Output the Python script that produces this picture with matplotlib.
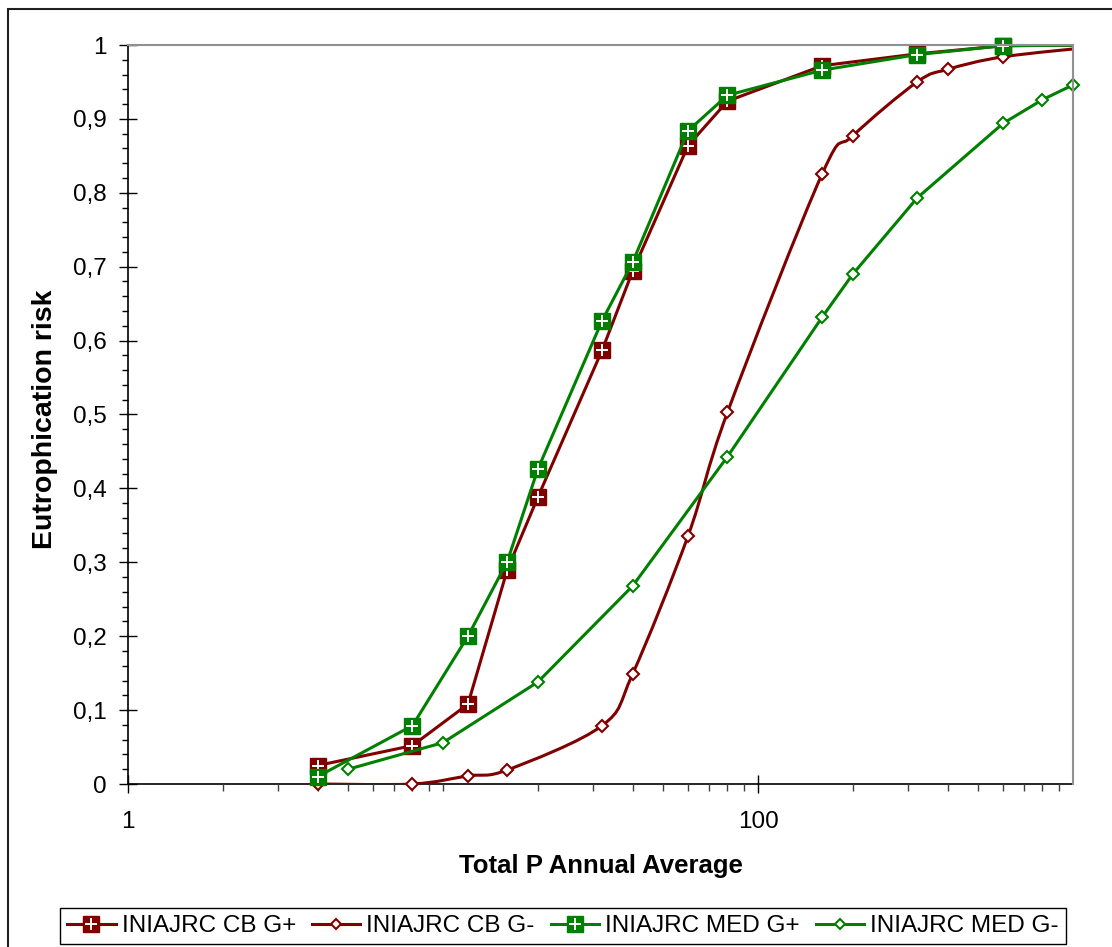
import numpy as np
import matplotlib
matplotlib.use("Agg")
import matplotlib.pyplot as plt
from matplotlib.lines import Line2D
from matplotlib.path import Path
from matplotlib.patches import PathPatch, Rectangle
from matplotlib.ticker import FixedLocator, FuncFormatter, NullFormatter

plt.rcParams['font.family'] = ['Liberation Sans', 'DejaVu Sans']

# --- data ---
gp_x = [4, 8, 12, 16, 20, 32, 40, 60, 80, 160, 320, 600, 1200]
cb_gp_y = [0.025, 0.052, 0.108, 0.290, 0.388, 0.587, 0.694, 0.864, 0.924, 0.972, 0.988, 0.999, 1.0]
med_gp_y = [0.010, 0.079, 0.200, 0.301, 0.426, 0.627, 0.706, 0.884, 0.932, 0.966, 0.987, 0.999, 1.0]

cb_gm_x = [4, 8, 12, 16, 32, 40, 60, 80, 160, 200, 320, 400, 600, 1200]
cb_gm_y = [0.0, 0.0, 0.011, 0.019, 0.079, 0.149, 0.336, 0.503, 0.826, 0.877, 0.950, 0.967, 0.984, 0.998]

med_gm_x = [5, 10, 20, 40, 80, 160, 200, 320, 600, 800, 1000]
med_gm_y = [0.020, 0.056, 0.138, 0.268, 0.443, 0.632, 0.690, 0.793, 0.894, 0.926, 0.946]

labels = ['INIAJRC CB G+', 'INIAJRC CB G-', 'INIAJRC MED G+', 'INIAJRC MED G-']
y_ticks = [0, 0.1, 0.2, 0.3, 0.4, 0.5, 0.6, 0.7, 0.8, 0.9, 1.0]
x_ticks = [1, 100]

RED = '#800000'
GREEN = '#008000'
LW = 2.2
XMAX = 1000


def smooth_path(x, y):
    # Excel-like smoothed line: Catmull-Rom bezier in (log x, y) space
    pts = np.column_stack([np.log10(x), y])
    n = len(pts)
    verts = [pts[0]]
    codes = [Path.MOVETO]
    for i in range(n - 1):
        p0 = pts[i - 1] if i > 0 else pts[i]
        p1 = pts[i]
        p2 = pts[i + 1]
        p3 = pts[i + 2] if i + 2 < n else pts[i + 1]
        verts += [p1 + (p2 - p0) / 6, p2 - (p3 - p1) / 6, p2]
        codes += [Path.CURVE4] * 3
    verts = np.array(verts)
    verts[:, 0] = 10 ** verts[:, 0]
    return Path(verts, codes)


fig = plt.figure(figsize=(11.12, 9.47), dpi=100)
ax = fig.add_axes([128 / 1112, 1 - 784 / 947, (1073 - 128) / 1112, (784 - 45) / 947])


def plus_series(x, y, color):
    x = np.array(x)
    y = np.array(y)
    ax.plot(x, y, color=color, lw=LW, solid_joinstyle='round')
    m = x <= XMAX
    ax.plot(x[m], y[m], ls='none', marker='s', ms=11.5, mfc=color, mec=color, clip_on=False)
    ax.plot(x[m], y[m], ls='none', marker='+', ms=8, mew=1.4, color='white', clip_on=False)


def diamond_markers(x, y, color):
    x = np.array(x)
    y = np.array(y)
    m = x <= XMAX
    ax.plot(x[m], y[m], ls='none', marker='D', ms=6, mfc='white', mec=color, mew=1.5, clip_on=False)


# CB G+
plus_series(gp_x, cb_gp_y, RED)
# CB G- (smoothed)
ax.add_patch(PathPatch(smooth_path(cb_gm_x, cb_gm_y), fill=False, edgecolor=RED, lw=LW))
diamond_markers(cb_gm_x, cb_gm_y, RED)
# MED G+
plus_series(gp_x, med_gp_y, GREEN)
# MED G-
ax.plot(med_gm_x, med_gm_y, color=GREEN, lw=LW, clip_on=False)
diamond_markers(med_gm_x, med_gm_y, GREEN)

ax.set_xscale('log')
ax.set_xlim(1, XMAX)
ax.set_ylim(0, 1)

ax.xaxis.set_major_locator(FixedLocator(x_ticks))
ax.xaxis.set_major_formatter(FuncFormatter(lambda v, p: f"{v:g}"))
minor_x = [m * 10 ** e for e in range(0, 3) for m in range(2, 11) if m * 10 ** e < XMAX]
ax.xaxis.set_minor_locator(FixedLocator(minor_x))
ax.xaxis.set_minor_formatter(NullFormatter())

ax.yaxis.set_major_locator(FixedLocator(y_ticks))
ax.yaxis.set_major_formatter(FuncFormatter(lambda v, p: f"{v:g}".replace('.', ',')))
ax.yaxis.set_minor_locator(FixedLocator(np.arange(0, 1.0001, 0.02)))

ax.tick_params(axis='both', which='major', direction='inout', length=13, width=1,
               labelsize=17.5, color='black')
ax.tick_params(axis='y', which='major', pad=9)
ax.tick_params(axis='x', which='major', pad=13)
ax.tick_params(axis='x', which='minor', direction='out', length=5, width=1, color='#404040')
ax.tick_params(axis='y', which='minor', direction='out', length=4.5, width=1, color='black')

for s in ['left', 'bottom']:
    ax.spines[s].set_color('black')
    ax.spines[s].set_linewidth(1.2)
for s in ['top', 'right']:
    ax.spines[s].set_color('#909090')
    ax.spines[s].set_linewidth(1.5)
ax.spines['left'].set_zorder(0.5)
ax.spines['bottom'].set_zorder(0.5)

fig.text(601 / 1112, 1 - 866 / 947, 'Total P Annual Average', ha='center', va='center',
         fontsize=18.5, fontweight='bold')
fig.text(45 / 1112, 1 - 419 / 947, 'Eutrophication risk', ha='center', va='center',
         rotation=90, fontsize=20.5, fontweight='bold')

# legend
h_cb_p = (Line2D([], [], color=RED, lw=LW, marker='s', ms=11.5, mfc=RED, mec=RED),
          Line2D([], [], ls='none', marker='+', ms=8, mew=1.4, color='white'))
h_cb_m = Line2D([], [], color=RED, lw=LW, marker='D', ms=5, mfc='white', mec=RED, mew=1.5)
h_med_p = (Line2D([], [], color=GREEN, lw=LW, marker='s', ms=11.5, mfc=GREEN, mec=GREEN),
           Line2D([], [], ls='none', marker='+', ms=8, mew=1.4, color='white'))
h_med_m = Line2D([], [], color=GREEN, lw=LW, marker='D', ms=5, mfc='white', mec=GREEN, mew=1.5)

leg = fig.legend([h_cb_p, h_cb_m, h_med_p, h_med_m], labels, ncol=4, loc='center',
                 bbox_to_anchor=(563 / 1112, 1 - 926 / 947), fontsize=17.5,
                 frameon=True, fancybox=False, framealpha=1, edgecolor='black',
                 handlelength=2.0, handletextpad=0.25, columnspacing=0.65,
                 borderpad=0.3, borderaxespad=0)
leg.get_frame().set_linewidth(1.0)

# outer chart border
fig.patches.append(Rectangle((8 / 1112, -0.1), 1.2, 1 - 9 / 947 + 0.1, transform=fig.transFigure,
                             fill=False, edgecolor='#202020', lw=1.5))

fig.savefig('out.png', dpi=100)
